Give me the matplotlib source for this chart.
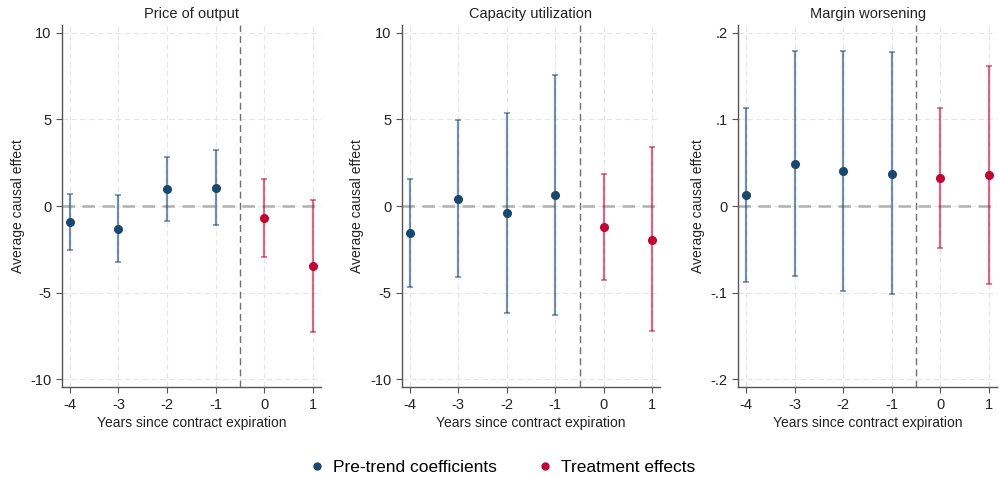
import matplotlib.pyplot as plt
import numpy as np

plt.rcParams['font.family'] = ['Liberation Sans', 'DejaVu Sans']
plt.rcParams['axes.unicode_minus'] = False

years = [-4, -3, -2, -1, 0, 1]

# price of output
price_pt = [-0.94, -1.33, 0.96, 1.06, -0.71, -3.46]
price_hi = [0.69, 0.63, 2.83, 3.21, 1.56, 0.33]
price_lo = [-2.54, -3.23, -0.88, -1.10, -2.96, -7.27]

# capacity utilization
cap_pt = [-1.58, 0.40, -0.38, 0.65, -1.23, -1.94]
cap_hi = [1.56, 4.96, 5.38, 7.58, 1.85, 3.38]
cap_lo = [-4.69, -4.12, -6.15, -6.27, -4.27, -7.23]

# margin worsening
marg_pt = [0.0127, 0.0488, 0.0404, 0.0373, 0.0319, 0.0358]
marg_hi = [0.1135, 0.179, 0.179, 0.1773, 0.1127, 0.1615]
marg_lo = [-0.088, -0.081, -0.0977, -0.102, -0.048, -0.090]

titles = ["Price of output", "Capacity utilization", "Margin worsening"]
yticks_big = [-10, -5, 0, 5, 10]
yticks_small = [-0.2, -0.1, 0, 0.1, 0.2]
ylabels_small = ["-.2", "-.1", "0", ".1", ".2"]

navy = '#1a476f'
red = '#c10534'

fig = plt.figure(figsize=(9.99, 4.78), dpi=100)
lefts = [0.062, 0.402, 0.739]
panels = [(price_pt, price_lo, price_hi), (cap_pt, cap_lo, cap_hi), (marg_pt, marg_lo, marg_hi)]

for k in range(3):
    ax = fig.add_axes([lefts[k], 0.190, 0.259, 0.758])
    pt, lo, hi = panels[k]
    pt = np.array(pt); lo = np.array(lo); hi = np.array(hi)
    x = np.array(years)
    pre = x < 0
    post = x >= 0
    for m, c in [(pre, navy), (post, red)]:
        ax.errorbar(x[m], pt[m], yerr=[pt[m] - lo[m], hi[m] - pt[m]], fmt='none',
                    ecolor=c, alpha=0.6, elinewidth=1.6, capsize=2.5, capthick=1.2, zorder=3)
        ax.plot(x[m], pt[m], 'o', color=c, markersize=5.5, zorder=4)
    if k < 2:
        lim = 10.46
        ax.set_yticks(yticks_big)
        ax.set_yticklabels([str(t) for t in yticks_big])
    else:
        lim = 0.2092
        ax.set_yticks(yticks_small)
        ax.set_yticklabels(ylabels_small)
    ax.set_ylim(-lim, lim)
    ax.set_xlim(-4.165, 1.165)
    ax.set_xticks(years)
    ax.set_xticklabels([str(t) for t in years])
    ax.axhline(0, color='#b0b0b0', linestyle=(0, (5, 3)), linewidth=1.8, zorder=2)
    ax.axvline(-0.5, color='#707070', linestyle=(0, (5, 3)), linewidth=1.0, zorder=2)
    ax.grid(True, color='#e6e6e6', linestyle=(0, (5, 3)), linewidth=0.8)
    ax.set_axisbelow(True)
    for s in ['top', 'right']:
        ax.spines[s].set_visible(False)
    for s in ['left', 'bottom']:
        ax.spines[s].set_color('#555555')
        ax.spines[s].set_linewidth(1.0)
    ax.tick_params(direction='out', length=4, color='#555555', labelsize=10.5, labelcolor='#222222')
    ax.set_title(titles[k], fontsize=10.5, color='#222222', pad=5)
    ax.set_xlabel("Years since contract expiration", fontsize=10, color='#222222', labelpad=3)
    ax.set_ylabel("Average causal effect", fontsize=10, color='#222222', labelpad=4)

h1 = plt.Line2D([], [], marker='o', linestyle='none', color=navy, markersize=5)
h2 = plt.Line2D([], [], marker='o', linestyle='none', color=red, markersize=5)
fig.legend([h1, h2], ["Pre-trend coefficients", "Treatment effects"], loc='center',
           bbox_to_anchor=(0.5, 0.023), ncol=2, frameon=False, fontsize=12.5,
           handletextpad=0.2, handlelength=1.5, columnspacing=2.0)

fig.savefig('out.png', dpi=100)
